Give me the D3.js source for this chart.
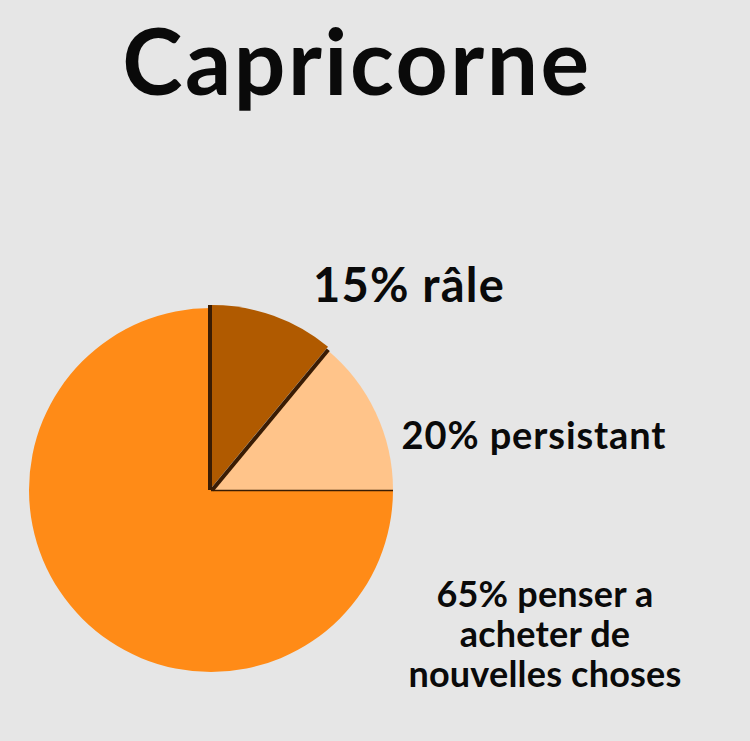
<!DOCTYPE html>
<html>
<head>
<meta charset="utf-8">
<script src="https://cdn.jsdelivr.net/npm/d3@7"></script>
<style>
  body { margin: 0; padding: 0; background: #e6e6e6; }
  svg { display: block; }
</style>
</head>
<body>
<script>
// values
const title = "Capricorne"
const categories = ["râle", "persistant", "penser a acheter de nouvelles choses"]
const labelPercents = [15, 20, 65]
// slice sizes as they are drawn in the picture (not the same as the labels)
const drawnShares = [11, 14, 75]
const colors = ["#b05a00", "#ffc48a", "#ff8b17"]

const width = 750
const height = 741

const svg = d3.select("body").append("svg")
  .attr("width", width)
  .attr("height", height)

svg.append("rect").attr("width", width).attr("height", height).attr("fill", "#e6e6e6")

const font = "Lato, 'Open Sans', sans-serif"

// title
svg.append("text")
  .attr("x", 357)
  .attr("y", 95)
  .attr("text-anchor", "middle")
  .attr("font-family", font)
  .attr("font-weight", 700)
  .attr("font-size", 91)
  .attr("letter-spacing", 2.5)
  .attr("fill", "#0a0a0a")
  .text(title)

// pie
const cx = 211, cy = 490, r = 182
const pie = d3.pie().sort(null).value(d => d)
const arcs = pie(drawnShares)
const arc = d3.arc().innerRadius(0).outerRadius(r)

const g = svg.append("g").attr("transform", `translate(${cx},${cy})`)

const shadow = "#3a1c03"

g.append("path").attr("d", arc(arcs[2])).attr("fill", colors[2])
g.append("path").attr("d", arc(arcs[1])).attr("fill", colors[1])

// thin dark edge under the light slice
const p90 = d3.pointRadial(arcs[1].endAngle, r)
g.append("line")
  .attr("x1", 0).attr("y1", 0.5).attr("x2", p90[0]).attr("y2", p90[1] + 0.5)
  .attr("stroke", shadow).attr("stroke-width", 1.5)

// dark slice, lifted a little, with its shadow edges
g.append("path")
  .attr("d", arc(arcs[0]))
  .attr("transform", "translate(1,-3)")
  .attr("fill", colors[0])

const a0 = arcs[0].startAngle, a1 = arcs[0].endAngle
const pStart = d3.pointRadial(a0, r + 1)
g.append("line")
  .attr("x1", -1).attr("y1", 0).attr("x2", pStart[0] - 1).attr("y2", pStart[1] - 2)
  .attr("stroke", shadow).attr("stroke-width", 4)

const pEnd = d3.pointRadial(a1, r)
const nx = Math.cos(a1) * 1.6, ny = Math.sin(a1) * 1.6
g.append("line")
  .attr("x1", nx).attr("y1", ny - 1).attr("x2", pEnd[0] + nx).attr("y2", pEnd[1] + ny - 1)
  .attr("stroke", shadow).attr("stroke-width", 4)

// labels
const labels = [
  { lines: [`${labelPercents[0]}% ${categories[0]}`], x: 409, y: 302, size: 47, ls: 1.2 },
  { lines: [`${labelPercents[1]}% ${categories[1]}`], x: 534, y: 449, size: 38, ls: 0.9 },
  { lines: [`${labelPercents[2]}% penser a`, "acheter de", "nouvelles choses"], x: 545, y: 607, size: 36, ls: 0.2 }
]

labels.forEach(l => {
  const t = svg.append("text")
    .attr("text-anchor", "middle")
    .attr("font-family", font)
    .attr("font-weight", 700)
    .attr("font-size", l.size)
    .attr("letter-spacing", l.ls)
    .attr("fill", "#0a0a0a")
  l.lines.forEach((line, j) => {
    t.append("tspan")
      .attr("x", l.x)
      .attr("y", l.y + j * 40)
      .text(line)
  })
})
</script>
</body>
</html>
